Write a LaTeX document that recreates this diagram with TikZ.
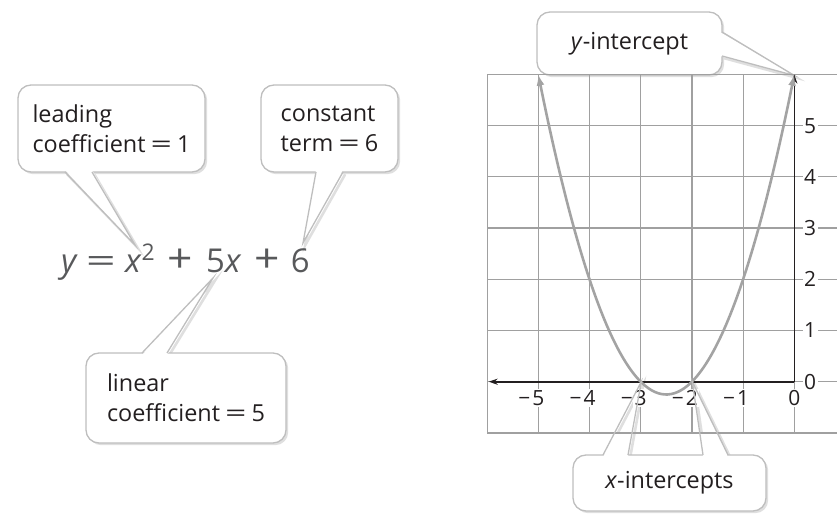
\documentclass[tikz,border=0pt]{standalone}
\usepackage{fontspec}
\setmainfont{Open Sans}
\usetikzlibrary{arrows.meta,calc,shadows}
\definecolor{ink}{HTML}{231F20}
\definecolor{eqink}{HTML}{58595B}
\definecolor{gridc}{HTML}{A0A0A0}
\definecolor{boxc}{HTML}{BEBEBE}
\definecolor{shadec}{HTML}{DFDFDF}
\definecolor{curvec}{HTML}{A3A3A3}
\newcommand{\eqsign}{\scalebox{1.6}[1]{=}}
\newcommand{\plussign}{\scalebox{1.35}[1.2]{+}}
\tikzset{
  callbox/.style={draw=boxc, line width=1.3bp, fill=white, rounded corners=13bp,
    align=left, inner sep=0pt, text=ink, font=\fontsize{23.5}{30}\selectfont,
    drop shadow={shadow xshift=2.2bp, shadow yshift=-2.2bp, fill=shadec, opacity=1}},
  spike/.style={draw=boxc, line width=1.3bp, line join=miter},
  spikeshade/.style={draw=shadec, line width=2.6bp, transform canvas={shift={(2.2bp,-2.2bp)}}},
  cover/.style={fill=white},
  tick/.style={font=\fontsize{21}{21}\selectfont, text=ink, fill=white, inner sep=1.5bp},
  gridline/.style={gridc, line width=1.2bp},
  axis/.style={ink, line width=1.6bp, -{Stealth[length=9bp,width=6bp]}},
  curve/.style={curvec, line width=2.6bp, {Latex[length=11bp,width=8bp]}-{Latex[length=11bp,width=8bp]}},
}

\begin{document}
\begin{tikzpicture}[x=1bp, y=-1bp]
\useasboundingbox (0,0) rectangle (837,516);

% spike corners
\coordinate (leadA) at (65,172);   \coordinate (leadB) at (92,172);   \coordinate (leadT) at (135,245);
\coordinate (constA) at (316,172); \coordinate (constB) at (343,172); \coordinate (constT) at (303,243);
\coordinate (linA) at (142,353);   \coordinate (linB) at (167,353);   \coordinate (linT) at (213,278);
\coordinate (yintA) at (722,32);   \coordinate (yintB) at (722,56);   \coordinate (yintT) at (794.3,75.5);
\coordinate (xintA) at (603,455);  \coordinate (xintB) at (628,455);  \coordinate (xintT) at (641.3,381.7);
\coordinate (xintC) at (703,455);  \coordinate (xintD) at (728,455);  \coordinate (xintU) at (692.3,381.7);

% shadows of the spikes
\draw[spikeshade] (leadA) -- (leadT) -- (leadB);
\draw[spikeshade] (constA) -- (constT) -- (constB);
\draw[spikeshade] (linA) -- (linT) -- (linB);
\draw[spikeshade] (yintA) -- (yintT) -- (yintB);
\draw[spikeshade] (xintA) -- (xintT) -- (xintB);
\draw[spikeshade] (xintC) -- (xintU) -- (xintD);

% boxes
\node[callbox, minimum width=187bp, minimum height=87bp] (lead) at (111.5,128.5) {leading\\coefficient\hspace{5bp}\eqsign\hspace{5bp}1};
\node[callbox, minimum width=137bp, minimum height=87bp] (const) at (329.5,128.5) {constant\\term\hspace{5bp}\eqsign\hspace{5bp}6};
\node[callbox, minimum width=200bp, minimum height=90bp] (lin) at (186,398) {linear\\coefficient\hspace{5bp}\eqsign\hspace{5bp}5};
\node[callbox, align=center, minimum width=185bp, minimum height=63bp] (yint) at (629.5,43.5) {\textit{y}-intercept};
\node[callbox, align=center, minimum width=193bp, minimum height=56bp] (xint) at (669.5,483) {\textit{x}-intercepts};

% spikes
\fill[cover] ($(leadA)+(0,-2)$) -- (leadT) -- ($(leadB)+(0,-2)$) -- cycle;
\draw[spike] (leadA) -- (leadT) -- (leadB);
\fill[cover] ($(constA)+(0,-2)$) -- (constT) -- ($(constB)+(0,-2)$) -- cycle;
\draw[spike] (constA) -- (constT) -- (constB);
\fill[cover] ($(linA)+(0,2)$) -- (linT) -- ($(linB)+(0,2)$) -- cycle;
\draw[spike] (linA) -- (linT) -- (linB);
\fill[cover] ($(yintA)+(-2,0)$) -- (yintT) -- ($(yintB)+(-2,0)$) -- cycle;
\draw[spike] (yintA) -- (yintT) -- (yintB);
\fill[cover] ($(xintA)+(0,2)$) -- ($(xintA)!0.3!(xintT)$) -- ($(xintB)!0.3!(xintT)$) -- ($(xintB)+(0,2)$) -- cycle;
\fill[cover] ($(xintC)+(0,2)$) -- ($(xintC)!0.3!(xintU)$) -- ($(xintD)!0.3!(xintU)$) -- ($(xintD)+(0,2)$) -- cycle;

% equation
\node[anchor=base west, inner sep=0pt, text=eqink, font=\fontsize{33}{33}\selectfont] (eq) at (61,273)
  {\textit{y}\hspace{8bp}\eqsign\hspace{9bp}\textit{x}\raisebox{12bp}{\fontsize{23}{23}\selectfont 2}\hspace{13bp}\plussign\hspace{13bp}5\textit{x}\hspace{13bp}\plussign\hspace{11bp}6};

% graph of y = x^2 + 5x + 6
\begin{scope}[shift={(794.3,381.7)}, x=51.2bp, y=51.2bp]
  \draw[gridline, step=1] (-6,-1) grid (0.84,6);
  \draw[gridline] (-6,-1) -- (-6,6);
  \coordinate (O) at (0,0);
  \coordinate (xend) at (-5.97,0);
  \coordinate (yend) at (0,6);
  \foreach \n in {1,...,5}
    \node[tick] (xt\n) at (-\n,-0.32) {\llap{−\hspace{2bp}}\n};
  \node[tick] (xt0) at (0,-0.32) {0};
  \foreach \n in {0,...,5}
    \node[tick, anchor=west] (yt\n) at (0.16,\n) {\n};
  \draw[axis] (O) -- (xend);
  \draw[axis] (O) -- (yend);
  \draw[curve] plot[domain=-5:0, samples=80, smooth] (\x, {\x*\x+5*\x+6});
\end{scope}

% spike lines over the grid
\draw[spike] (xintA) -- (xintT) -- (xintB);
\draw[spike] (xintC) -- (xintU) -- (xintD);
\end{tikzpicture}
\end{document}
